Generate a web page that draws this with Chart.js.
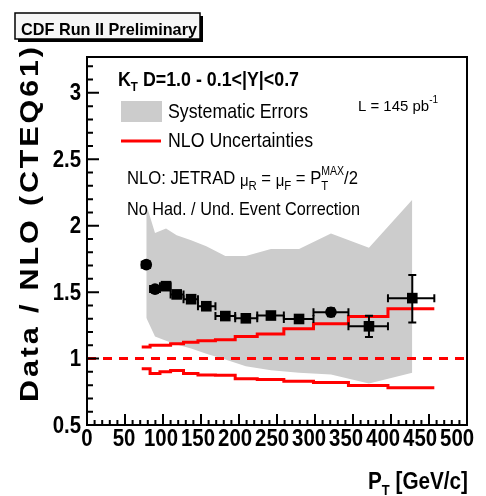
<!DOCTYPE html>
<html>
<head>
<meta charset="utf-8">
<script src="https://cdn.jsdelivr.net/npm/chart.js@4.4.1/dist/chart.umd.min.js"></script>
<style>
  html, body { margin: 0; padding: 0; background: #fff; }
  canvas { display: block; }
</style>
</head>
<body>
<canvas id="chart" width="486" height="496"></canvas>
<script>
// bin edges in PT (GeV/c)
const binEdges = [72, 83, 96, 110, 127, 146, 169, 195, 224, 259, 298, 344, 396, 457];
// data points
const ptX = [78, 89.5, 104, 118, 137, 157, 182, 209, 242, 279, 321, 371, 428];
const ptY = [1.707, 1.523, 1.545, 1.483, 1.447, 1.394, 1.320, 1.303, 1.324, 1.298, 1.349, 1.243, 1.455];
const errUp = [0.025, 0.02, 0.02, 0.02, 0.02, 0.02, 0.02, 0.02, 0.02, 0.02, 0.03, 0.08, 0.174];
const errDn = [0.025, 0.02, 0.02, 0.02, 0.02, 0.02, 0.02, 0.02, 0.02, 0.02, 0.03, 0.08, 0.183];
const ptShape = ['circle', 'circle', 'rect', 'rect', 'rect', 'rect', 'rect', 'rect', 'rect', 'rect', 'circle', 'rect', 'rect'];
// systematic error band
const sysUp = [2.16, 1.946, 1.979, 1.929, 1.891, 1.846, 1.772, 1.772, 1.824, 1.824, 1.942, 1.835, 2.196];
const sysDn = [1.307, 1.167, 1.135, 1.105, 1.075, 1.037, 0.993, 0.943, 0.913, 0.893, 0.880, 0.813, 0.893];
// NLO uncertainty per bin
const nloUp = [1.088, 1.100, 1.100, 1.112, 1.122, 1.135, 1.142, 1.167, 1.185, 1.225, 1.262, 1.317, 1.375];
const nloDn = [0.923, 0.888, 0.900, 0.910, 0.888, 0.876, 0.874, 0.848, 0.843, 0.830, 0.820, 0.798, 0.780];
const refLevel = 1;
const xTicks = [0, 50, 100, 150, 200, 250, 300, 350, 400, 450, 500];
const yTicks = [0.5, 1, 1.5, 2, 2.5, 3];

const FAM = "'Liberation Sans', Arial, sans-serif";

function steps(vals) {
  return binEdges.map((x, i) => ({ x, y: vals[Math.min(i, vals.length - 1)] }));
}

function rich(ctx, segs, x, y, bold, width) {
  const f = s => (bold ? 'bold ' : '') + s + 'px ' + FAM;
  let w = 0;
  segs.forEach(g => {
    ctx.font = f(g.s);
    if (!g.stack) w += ctx.measureText(g.t).width;
  });
  const sx = width ? width / w : 1;
  ctx.save();
  ctx.translate(x, y);
  ctx.scale(sx, 1);
  ctx.fillStyle = '#000';
  ctx.textBaseline = 'alphabetic';
  ctx.textAlign = 'left';
  let cx = 0;
  segs.forEach(g => {
    ctx.font = f(g.s);
    ctx.fillText(g.t, cx, g.dy || 0);
    if (!g.stack) cx += ctx.measureText(g.t).width;
  });
  ctx.restore();
}

const errorBars = {
  id: 'errorBars',
  beforeDatasetDraw(chart, args) {
    if (args.index !== 5) return;
    const { ctx, scales: { x, y } } = chart;
    ctx.save();
    ctx.strokeStyle = '#000';
    ctx.lineWidth = 2;
    ptX.forEach((v, i) => {
      const px = x.getPixelForValue(v);
      const py = y.getPixelForValue(ptY[i]);
      const x0 = x.getPixelForValue(binEdges[i]);
      const x1 = x.getPixelForValue(binEdges[i + 1]);
      const y0 = y.getPixelForValue(ptY[i] + errUp[i]);
      const y1 = y.getPixelForValue(ptY[i] - errDn[i]);
      ctx.beginPath();
      ctx.moveTo(x0, py); ctx.lineTo(x1, py);
      ctx.moveTo(x0, py - 4); ctx.lineTo(x0, py + 4);
      ctx.moveTo(x1, py - 4); ctx.lineTo(x1, py + 4);
      ctx.moveTo(px, y0); ctx.lineTo(px, y1);
      ctx.moveTo(px - 4, y0); ctx.lineTo(px + 4, y0);
      ctx.moveTo(px - 4, y1); ctx.lineTo(px + 4, y1);
      ctx.stroke();
    });
    ctx.restore();
  }
};

const frame = {
  id: 'frame',
  afterDraw(chart) {
    const { ctx, chartArea: a, scales: { x, y } } = chart;
    ctx.save();
    ctx.strokeStyle = '#000';
    ctx.lineWidth = 2;
    ctx.strokeRect(a.left, a.top, a.right - a.left, a.bottom - a.top);
    // inward ticks
    ctx.beginPath();
    for (let k = 5; k <= 32; k++) {
      const py = y.getPixelForValue(k / 10);
      const len = k % 5 === 0 ? 12 : 6;
      ctx.moveTo(a.left, py); ctx.lineTo(a.left + len, py);
    }
    for (let k = 0; k <= 50; k++) {
      const px = x.getPixelForValue(k * 10);
      const len = k % 5 === 0 ? 11 : 5;
      ctx.moveTo(px, a.bottom); ctx.lineTo(px, a.bottom - len);
    }
    ctx.stroke();

    // tick labels
    ctx.fillStyle = '#000';
    ctx.textBaseline = 'middle';
    yTicks.forEach(v => {
      ctx.save();
      ctx.translate(81, y.getPixelForValue(v));
      ctx.scale(0.85, 1);
      ctx.font = 'bold 24px ' + FAM;
      ctx.textAlign = 'right';
      ctx.fillText(String(v), 0, 1);
      ctx.restore();
    });
    xTicks.forEach(v => {
      const px = a.left + (x.getPixelForValue(v) - a.left) * 0.974;
      ctx.save();
      ctx.translate(px, 439);
      ctx.scale(0.85, 1);
      ctx.font = 'bold 24px ' + FAM;
      ctx.textAlign = 'center';
      ctx.fillText(String(v), 0, 0);
      ctx.restore();
    });

    // axis titles
    rich(ctx, [{ t: 'P', s: 24 }, { t: 'T', s: 15, dy: 6 }, { t: ' [GeV/c]', s: 24 }], 368, 489, true, 100);
    ctx.save();
    ctx.translate(38, 402);
    ctx.rotate(-Math.PI / 2);
    ctx.font = 'bold 25px ' + FAM;
    ctx.textBaseline = 'alphabetic';
    const title = 'Data / NLO (CTEQ61)';
    const stretch = 1.22;
    const nat = ctx.measureText(title).width * stretch;
    const sp = (355 - nat) / (title.length - 1);
    let cx = 0;
    for (const ch of title) {
      ctx.save();
      ctx.translate(cx, 0);
      ctx.scale(stretch, 1);
      ctx.fillText(ch, 0, 0);
      ctx.restore();
      cx += ctx.measureText(ch).width * stretch + sp;
    }
    ctx.restore();

    // title box
    ctx.fillStyle = '#000';
    ctx.fillRect(18, 16, 185, 26);
    ctx.fillStyle = '#f6f6f6';
    ctx.fillRect(15, 13, 185, 26);
    ctx.lineWidth = 1.5;
    ctx.strokeRect(15, 13, 185, 26);
    rich(ctx, [{ t: 'CDF Run II Preliminary', s: 17 }], 21, 35, true, 176);

    // legend
    rich(ctx, [{ t: 'K', s: 20 }, { t: 'T', s: 13, dy: 5 }, { t: ' D=1.0 - 0.1<|Y|<0.7', s: 20 }], 118, 86, true, 181);
    ctx.fillStyle = '#cccccc';
    ctx.fillRect(121, 101, 41, 21);
    ctx.strokeStyle = '#ff0000';
    ctx.lineWidth = 3;
    ctx.beginPath();
    ctx.moveTo(121, 141); ctx.lineTo(161, 141);
    ctx.stroke();
    rich(ctx, [{ t: 'Systematic Errors', s: 21 }], 168, 118, false, 140);
    rich(ctx, [{ t: 'NLO Uncertainties', s: 21 }], 168, 147, false, 145);
    rich(ctx, [
      { t: 'NLO: JETRAD ', s: 19 }, { t: 'μ', s: 17, dy: 2 }, { t: 'R', s: 13, dy: 6 },
      { t: ' = ', s: 19 }, { t: 'μ', s: 17, dy: 2 }, { t: 'F', s: 13, dy: 6 },
      { t: ' = P', s: 19 }, { t: 'T', s: 13, dy: 6, stack: true }, { t: 'MAX', s: 12, dy: -9 },
      { t: '/2', s: 19 }
    ], 127, 184, false, 231);
    rich(ctx, [{ t: 'No Had. / Und. Event Correction', s: 19 }], 127, 215, false, 233);
    rich(ctx, [{ t: 'L = 145 pb', s: 15 }, { t: '-1', s: 10, dy: -8 }], 358, 111, false, 80);
    ctx.restore();
  }
};

new Chart(document.getElementById('chart'), {
  type: 'scatter',
  data: {
    datasets: [
      { // 0 band lower edge
        type: 'line', data: ptX.map((x, i) => ({ x, y: sysDn[i] })),
        borderWidth: 0, pointRadius: 0, fill: false, order: 10
      },
      { // 1 band upper edge
        type: 'line', data: ptX.map((x, i) => ({ x, y: sysUp[i] })),
        borderWidth: 0, pointRadius: 0, fill: { target: 0 }, backgroundColor: '#cccccc', order: 9
      },
      { // 2 reference
        type: 'line', data: [{ x: 0, y: refLevel }, { x: 500, y: refLevel }],
        borderColor: '#ff0000', borderWidth: 3, borderDash: [9, 7], pointRadius: 0, order: 5
      },
      { // 3 NLO upper
        type: 'line', data: steps(nloUp), stepped: 'before',
        borderColor: '#ff0000', borderWidth: 3, pointRadius: 0, order: 4
      },
      { // 4 NLO lower
        type: 'line', data: steps(nloDn), stepped: 'before',
        borderColor: '#ff0000', borderWidth: 3, pointRadius: 0, order: 3
      },
      { // 5 data
        data: ptX.map((x, i) => ({ x, y: ptY[i] })),
        pointStyle: ptShape,
        pointRadius: ptShape.map(s => s === 'rect' ? 7.5 : 5.8),
        backgroundColor: '#000', borderWidth: 0, showLine: false, order: 0
      }
    ]
  },
  options: {
    responsive: false,
    animation: false,
    devicePixelRatio: 1,
    layout: { padding: { left: 0, top: 57, right: 19, bottom: 0 } },
    plugins: { legend: { display: false }, tooltip: { enabled: false } },
    elements: { line: { tension: 0 } },
    scales: {
      x: {
        type: 'linear', min: 0, max: 500,
        grid: { display: false }, border: { display: false },
        ticks: { display: false },
        afterFit(s) { s.height = 71; }
      },
      y: {
        type: 'linear', min: 0.5, max: 3.27,
        grid: { display: false }, border: { display: false },
        ticks: { display: false },
        afterFit(s) { s.width = 87; }
      }
    }
  },
  plugins: [errorBars, frame]
});
</script>
</body>
</html>
